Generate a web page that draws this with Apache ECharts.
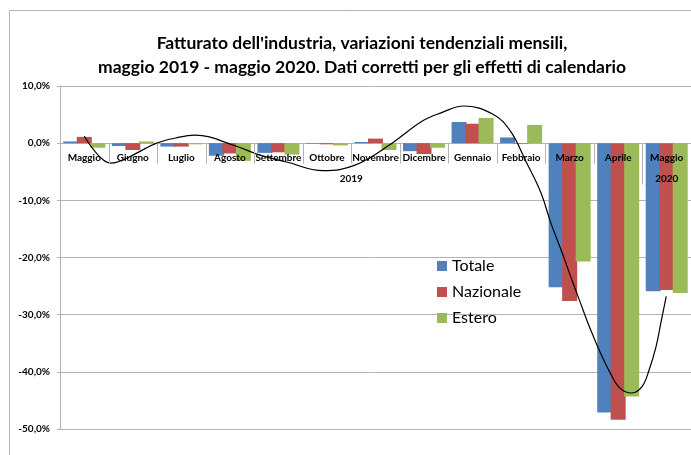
<!DOCTYPE html>
<html style="height: 100%">
<head>
  <meta charset="UTF-8">
  <title>Fatturato dell'industria</title>
  <script src="https://cdn.jsdelivr.net/npm/echarts@6/dist/echarts.min.js"></script>
  <style>
    html, body {
      margin: 0;
      height: 100%;
      width: 100%;
      background-color: #fff;
    }
    #chart {
      width: 691px;
      height: 455px;
    }
  </style>
</head>
<body>
  <div id="chart"></div>

  <script>
    // dati
    const months = ['Maggio', 'Giugno', 'Luglio', 'Agosto', 'Settembre', 'Ottobre', 'Novembre',
      'Dicembre', 'Gennaio', 'Febbraio', 'Marzo', 'Aprile', 'Maggio'];
    const totale = [0.3, -0.5, -0.6, -2.2, -1.7, -0.1, 0.2, -1.4, 3.7, 1.0, -25.2, -47.1, -25.9];
    const nazionale = [1.1, -1.2, -0.6, -1.8, -1.6, -0.2, 0.8, -1.9, 3.4, -0.1, -27.6, -48.4, -25.7];
    const estero = [-0.8, 0.3, -0.2, -3.1, -2.0, -0.4, -1.2, -0.8, 4.4, 3.2, -20.7, -44.3, -26.2];
    // linea di tendenza: [posizione mese, valore]
    const trend = [
      [0.00, 1.2], [0.31, -2.3], [0.56, -3.5], [0.78, -3.0], [1.02, -2.0], [1.49, 0.0],
      [1.88, 0.9], [2.28, 1.4], [3.09, -0.4], [3.62, -2.1], [4.17, -3.3], [4.92, -4.8],
      [5.59, -3.8], [6.34, 0.0], [6.95, 3.8], [7.35, 5.3], [7.82, 6.5], [8.43, 5.0],
      [8.78, 2.1], [9.10, -3.2], [9.41, -8.7], [9.61, -13.9], [9.82, -18.6], [10.02, -23.3],
      [10.22, -27.9], [10.43, -32.6], [10.63, -36.6], [10.83, -40.1], [11.03, -42.8],
      [11.28, -43.7], [11.49, -42.6], [11.64, -39.6], [11.78, -35.6], [11.88, -31.4],
      [11.99, -26.8]
    ];
    // anni: [etichetta, centro in posizione mese]
    const years = [['2019', 5.5], ['2020', 12]];
    const yTicks = { min: -50, max: 10, interval: 10 };

    const colors = ['#4F81BD', '#C0504D', '#9BBB59'];
    const font = 'Lato, "Open Sans", sans-serif';
    const grey = '#b3b3b3';

    const chart = echarts.init(document.getElementById('chart'));

    chart.setOption({
      animation: false,
      color: colors,
      textStyle: { fontFamily: font },
      title: {
        text: "Fatturato dell'industria, variazioni tendenziali mensili,\nmaggio 2019 - maggio 2020. Dati corretti per gli effetti di calendario",
        left: 362,
        top: 31,
        textAlign: 'center',
        padding: 0,
        textStyle: {
          fontFamily: font,
          fontSize: 17.5,
          fontWeight: 'bold',
          color: '#000',
          lineHeight: 24
        }
      },
      legend: {
        orient: 'vertical',
        left: 437,
        top: 258,
        padding: 0,
        itemWidth: 10,
        itemHeight: 10,
        itemGap: 10,
        icon: 'rect',
        data: ['Totale', 'Nazionale', 'Estero'],
        textStyle: { fontFamily: font, fontSize: 16, color: '#000', lineHeight: 16 }
      },
      grid: {
        left: 60,
        right: -9,
        top: 86,
        bottom: 26
      },
      xAxis: [
        {
          type: 'category',
          data: months,
          position: 'bottom',
          offset: -285.5,
          z: 3,
          axisLine: { show: false, onZero: false },
          axisTick: { show: false },
          axisLabel: {
            interval: 0,
            margin: 9,
            fontFamily: font,
            fontSize: 10,
            fontWeight: 'bold',
            color: '#000'
          },
          splitLine: { show: false }
        },
        {
          type: 'value',
          min: -0.5,
          max: 12.5,
          position: 'top',
          show: false,
          axisLine: { show: false, onZero: false },
          splitLine: { show: false }
        }
      ],
      yAxis: {
        type: 'value',
        min: yTicks.min,
        max: yTicks.max,
        interval: yTicks.interval,
        axisLine: { show: true, onZero: false, lineStyle: { color: grey } },
        axisTick: { show: true, length: 3, lineStyle: { color: grey } },
        axisLabel: {
          margin: 10,
          fontFamily: font,
          fontSize: 10,
          fontWeight: 'bold',
          color: '#000',
          formatter: v => v.toFixed(1).replace('.', ',') + '%'
        },
        splitLine: { lineStyle: { color: grey } }
      },
      series: [
        {
          name: 'Totale',
          type: 'bar',
          barWidth: 15,
          barGap: '-10%',
          data: totale
        },
        {
          name: 'Nazionale',
          type: 'bar',
          barWidth: 15,
          barGap: '-10%',
          data: nazionale
        },
        {
          name: 'Estero',
          type: 'bar',
          barWidth: 15,
          barGap: '-10%',
          data: estero
        },
        {
          name: 'Tendenza',
          type: 'line',
          xAxisIndex: 1,
          data: trend,
          smooth: 0.4,
          showSymbol: false,
          z: 5,
          lineStyle: { color: '#000', width: 1.2 }
        }
      ]
    });

    // tacche fra i mesi sulla linea dello zero, separatore 2019/2020 ed etichette anni
    const y0 = Math.round(chart.convertToPixel({ yAxisIndex: 0 }, 0)) + 0.5;
    const graphics = [{
      type: 'rect',
      shape: { x: 9.5, y: 10.5, width: 720, height: 480 },
      style: { fill: null, stroke: grey, lineWidth: 1 },
      silent: true
    }];
    for (let i = 1; i < months.length; i++) {
      const x = Math.round(chart.convertToPixel({ xAxisIndex: 1 }, i - 0.5)) + 0.5;
      graphics.push({
        type: 'line',
        z: 10,
        shape: { x1: x, y1: y0, x2: x, y2: y0 + (i === 12 ? 41 : 20) },
        style: { stroke: grey, lineWidth: 1 },
        silent: true
      });
    }
    years.forEach(([label, pos]) => {
      graphics.push({
        type: 'text',
        z: 10,
        x: chart.convertToPixel({ xAxisIndex: 1 }, pos),
        y: y0 + 35,
        style: { text: label, font: 'bold 10px ' + font, fill: '#000', align: 'center', verticalAlign: 'middle' }
      });
    });
    chart.setOption({ graphic: graphics });
  </script>
</body>
</html>
